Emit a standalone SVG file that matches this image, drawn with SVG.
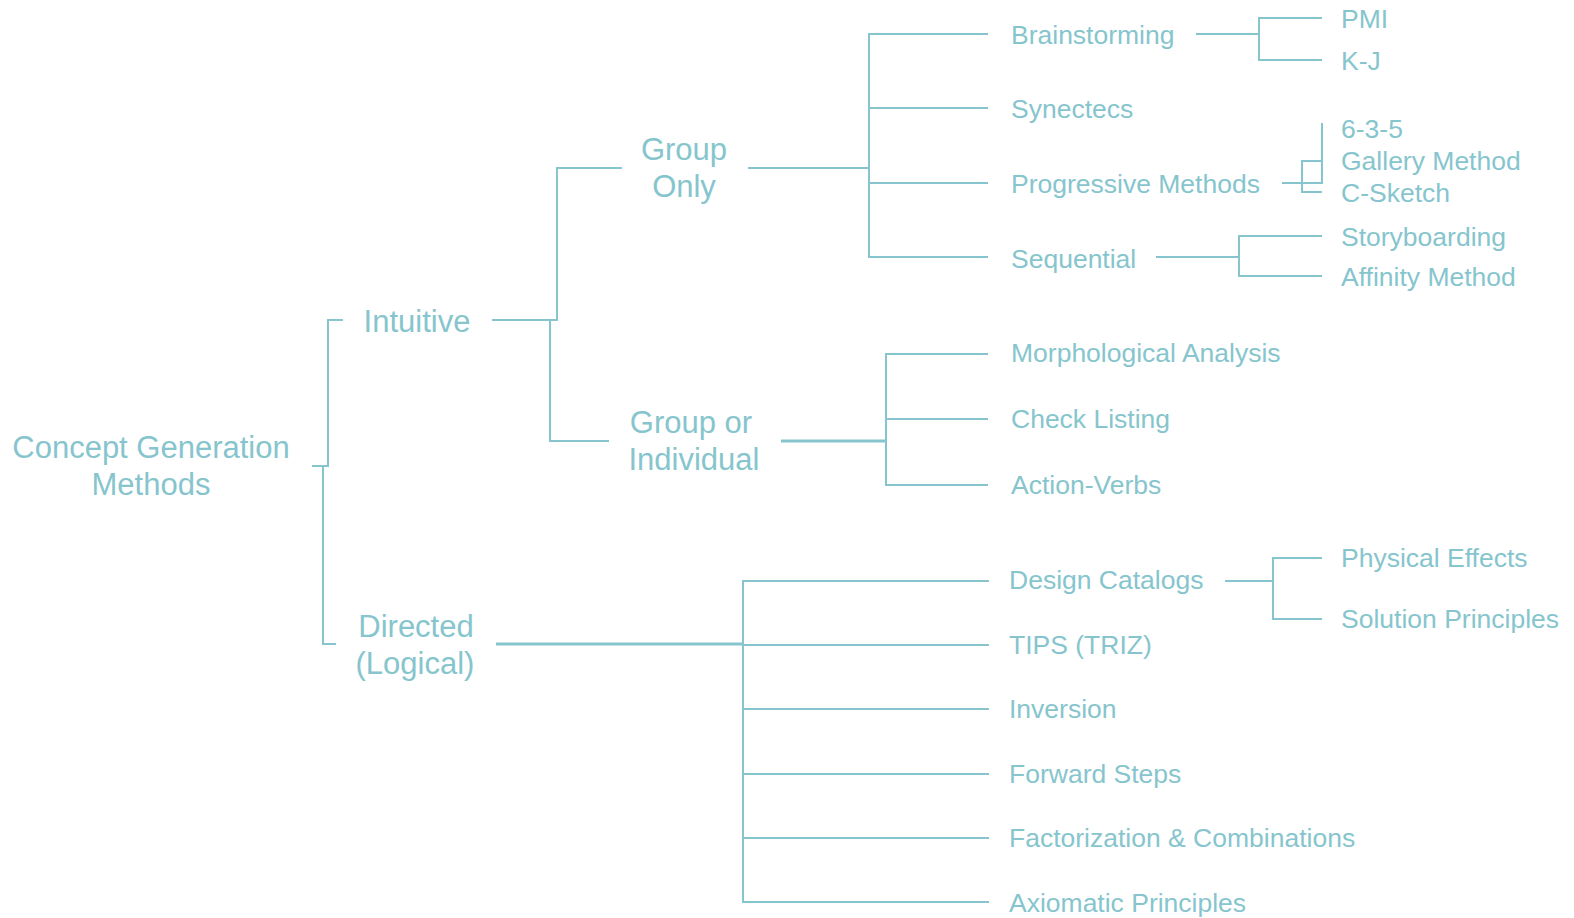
<svg xmlns="http://www.w3.org/2000/svg" width="1574" height="918" viewBox="0 0 1574 918">
  <style>
    .t { font-family: "Liberation Sans", Arial, sans-serif; fill: #86c5cd; }
    .l1 { font-size: 31px; text-anchor: middle; }
    .l2 { font-size: 26.5px; }
    .l3 { font-size: 26.5px; }
    .c { fill: none; stroke: #86c5cd; stroke-width: 2; }
    .c.thick { stroke-width: 3; }
  </style>
  <rect width="1574" height="918" fill="#ffffff"/>

  <g id="connectors">
    <!-- root brackets -->
    <path class="c" d="M343 320 H328 V466 H312"/>
    <path class="c" d="M312 466 H323 V644 H336"/>
    <!-- Intuitive -->
    <path class="c" d="M492 320 H557 V168 H622"/>
    <path class="c" d="M492 320 H550 V441 H609"/>
    <!-- Group Only -->
    <path class="c" d="M748 168 H869"/>
    <path class="c" d="M988 34 H869 V257 H988"/>
    <path class="c" d="M869 108 H988"/>
    <path class="c" d="M869 183 H988"/>
    <!-- Group or Individual -->
    <path class="c thick" d="M781 441 H886"/>
    <path class="c" d="M988 354 H886 V485 H988"/>
    <path class="c" d="M886 419 H988"/>
    <!-- Directed -->
    <path class="c thick" d="M496 644 H743"/>
    <path class="c" d="M989 581 H743 V902 H989"/>
    <path class="c" d="M743 645 H989"/>
    <path class="c" d="M743 709 H989"/>
    <path class="c" d="M743 774 H989"/>
    <path class="c" d="M743 838 H989"/>
    <!-- Brainstorming -->
    <path class="c" d="M1196 34 H1259"/>
    <path class="c" d="M1322 18 H1259 V60 H1322"/>
    <!-- Progressive Methods -->
    <path class="c" d="M1282 183 H1322 V123"/>
    <path class="c" d="M1322 161 H1302 V192 H1322"/>
    <!-- Sequential -->
    <path class="c" d="M1156 257 H1239"/>
    <path class="c" d="M1322 236 H1239 V276 H1322"/>
    <!-- Design Catalogs -->
    <path class="c" d="M1225 581 H1273"/>
    <path class="c" d="M1322 558 H1273 V619 H1322"/>
  </g>

  <g id="root"><text class="t l1" x="151" y="458">Concept Generation</text><text class="t l1" x="151" y="495">Methods</text></g>
  <g id="intuitive"><text class="t l1" x="417" y="332">Intuitive</text></g>
  <g id="directed"><text class="t l1" x="416" y="637">Directed</text><text class="t l1" x="415" y="674">(Logical)</text></g>
  <g id="group-only"><text class="t l1" x="684" y="160">Group</text><text class="t l1" x="684" y="197">Only</text></g>
  <g id="group-or-individual"><text class="t l1" x="691" y="433">Group or</text><text class="t l1" x="694" y="470">Individual</text></g>

  <g id="brainstorming"><text class="t l2" x="1011" y="44">Brainstorming</text></g>
  <g id="synectecs"><text class="t l2" x="1011" y="118">Synectecs</text></g>
  <g id="progressive"><text class="t l2" x="1011" y="193">Progressive Methods</text></g>
  <g id="sequential"><text class="t l2" x="1011" y="268">Sequential</text></g>
  <g id="morphological"><text class="t l2" x="1011" y="362">Morphological Analysis</text></g>
  <g id="check-listing"><text class="t l2" x="1011" y="428">Check Listing</text></g>
  <g id="action-verbs"><text class="t l2" x="1011" y="494">Action-Verbs</text></g>
  <g id="design-catalogs"><text class="t l2" x="1009" y="589">Design Catalogs</text></g>
  <g id="tips"><text class="t l2" x="1009" y="654">TIPS (TRIZ)</text></g>
  <g id="inversion"><text class="t l2" x="1009" y="718">Inversion</text></g>
  <g id="forward-steps"><text class="t l2" x="1009" y="783">Forward Steps</text></g>
  <g id="factorization"><text class="t l2" x="1009" y="847">Factorization &amp; Combinations</text></g>
  <g id="axiomatic"><text class="t l2" x="1009" y="912">Axiomatic Principles</text></g>

  <g id="pmi"><text class="t l3" x="1341" y="28">PMI</text></g>
  <g id="kj"><text class="t l3" x="1341" y="70">K-J</text></g>
  <g id="six-three-five"><text class="t l3" x="1341" y="138">6-3-5</text></g>
  <g id="gallery"><text class="t l3" x="1341" y="170">Gallery Method</text></g>
  <g id="c-sketch"><text class="t l3" x="1341" y="202">C-Sketch</text></g>
  <g id="storyboarding"><text class="t l3" x="1341" y="246">Storyboarding</text></g>
  <g id="affinity"><text class="t l3" x="1341" y="286">Affinity Method</text></g>
  <g id="physical-effects"><text class="t l3" x="1341" y="567">Physical Effects</text></g>
  <g id="solution-principles"><text class="t l3" x="1341" y="628">Solution Principles</text></g>
</svg>
